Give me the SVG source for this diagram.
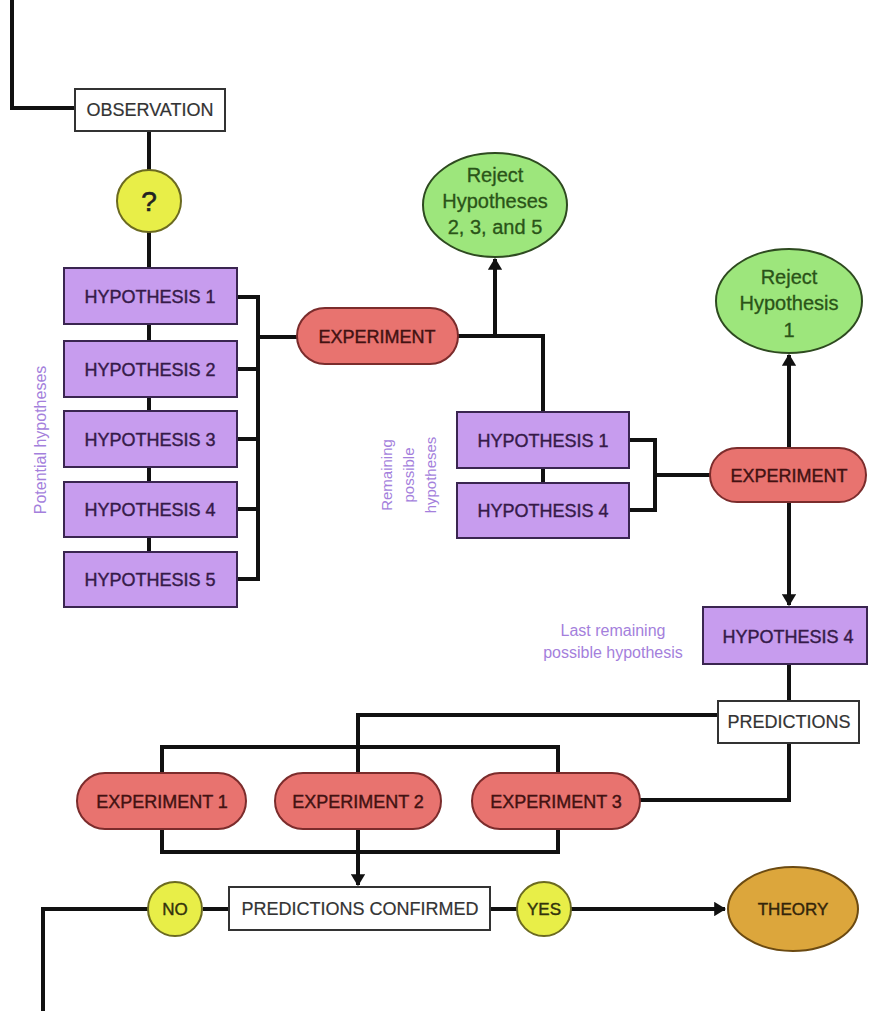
<svg xmlns="http://www.w3.org/2000/svg" width="869" height="1011" viewBox="0 0 869 1011">
<defs>
<style>
text{font-family:"Liberation Sans",Arial,sans-serif;text-anchor:middle}
.wire{fill:none;stroke:#111;stroke-width:4;stroke-linejoin:miter}
.box{fill:#fff;stroke:#333;stroke-width:2}
.hyp{fill:#c79cee;stroke:#3a2550;stroke-width:2}
.hyp-t{font-size:18px;fill:#351a48;stroke:#351a48;stroke-width:0.4}
.exp{fill:#e8736f;stroke:#7b2c2c;stroke-width:2}
.exp-t{font-size:18px;fill:#421212;stroke:#421212;stroke-width:0.4}
.rej{fill:#9de67c;stroke:#2e4a20;stroke-width:2}
.rej-t{font-size:20px;fill:#2a5418;stroke:#2a5418;stroke-width:0.3}
.yel{fill:#e8ee48;stroke:#6b6a20;stroke-width:2}
.yel-t{font-size:17px;fill:#33330c;stroke:#33330c;stroke-width:0.4}
.box-t{font-size:18px;fill:#333;stroke:#333;stroke-width:0.2}
.lab{font-size:15px;fill:#a47fdc}
</style>
<marker id="arr" viewBox="0 0 10 12" refX="9" refY="6" markerWidth="3" markerHeight="3.6" orient="auto" markerUnits="strokeWidth">
<path d="M0,0 L10,6 L0,12 z" fill="#111"/>
</marker>
</defs>
<rect width="869" height="1011" fill="#fff"/>

<g id="connectors">
<path class="wire" d="M12,0 V108 H75"/>
<path class="wire" d="M149,131 V170"/>
<path class="wire" d="M149,232 V268"/>
<path class="wire" d="M149,324 V341 M149,397 V411 M149,467 V482 M149,537 V552"/>
<path class="wire" d="M237,297 H258 V579 H237 M237,369 H258 M237,439 H258 M237,509 H258 M258,337 H297"/>
<path class="wire" d="M458,336 H543 V412"/>
<path class="wire" d="M495,336 V259" marker-end="url(#arr)"/>
<path class="wire" d="M543,468 V483"/>
<path class="wire" d="M629,440 H655 V510 H629 M655,475 H710"/>
<path class="wire" d="M789,448 V355" marker-end="url(#arr)"/>
<path class="wire" d="M789,502 V605" marker-end="url(#arr)"/>
<path class="wire" d="M789,664 V701"/>
<path class="wire" d="M718,715 H358 V773"/>
<path class="wire" d="M162,773 V747 H558 V773"/>
<path class="wire" d="M162,829 V852 H558 V829"/>
<path class="wire" d="M358,829 V885" marker-end="url(#arr)"/>
<path class="wire" d="M640,800 H789 V743"/>
<path class="wire" d="M203,909 H229"/>
<path class="wire" d="M148,909 H43 V1011"/>
<path class="wire" d="M490,909 H517"/>
<path class="wire" d="M571,909 H725" marker-end="url(#arr)"/>
</g>

<g id="observation">
<rect class="box" x="75" y="89" width="150" height="42"/>
<text class="box-t" x="150" y="116">OBSERVATION</text>
</g>

<g id="question">
<ellipse class="yel" cx="149" cy="201" rx="32" ry="31"/>
<text x="149" y="211" style="font-size:28px;fill:#222;stroke:#222;stroke-width:0.6">?</text>
</g>

<g id="hyp1">
<rect class="hyp" x="64" y="268" width="173" height="56"/>
<text class="hyp-t" x="150" y="303">HYPOTHESIS 1</text>
</g>
<g id="hyp2">
<rect class="hyp" x="64" y="341" width="173" height="56"/>
<text class="hyp-t" x="150" y="376">HYPOTHESIS 2</text>
</g>
<g id="hyp3">
<rect class="hyp" x="64" y="411" width="173" height="56"/>
<text class="hyp-t" x="150" y="446">HYPOTHESIS 3</text>
</g>
<g id="hyp4">
<rect class="hyp" x="64" y="482" width="173" height="55"/>
<text class="hyp-t" x="150" y="516">HYPOTHESIS 4</text>
</g>
<g id="hyp5">
<rect class="hyp" x="64" y="552" width="173" height="55"/>
<text class="hyp-t" x="150" y="586">HYPOTHESIS 5</text>
</g>

<g id="label-potential">
<text class="lab" transform="translate(46,440) rotate(-90)" style="font-size:16px">Potential hypotheses</text>
</g>

<g id="experiment-a">
<rect class="exp" x="297" y="308" width="161" height="56" rx="28"/>
<text class="exp-t" x="377" y="343">EXPERIMENT</text>
</g>

<g id="reject-a">
<ellipse class="rej" cx="495" cy="205" rx="72" ry="52"/>
<text class="rej-t" x="495" y="182">Reject</text>
<text class="rej-t" x="495" y="208">Hypotheses</text>
<text class="rej-t" x="495" y="234">2, 3, and 5</text>
</g>

<g id="label-remaining">
<text class="lab" transform="translate(392,475) rotate(-90)">Remaining</text>
<text class="lab" transform="translate(414,475) rotate(-90)">possible</text>
<text class="lab" transform="translate(436,475) rotate(-90)">hypotheses</text>
</g>

<g id="hyp1-b">
<rect class="hyp" x="457" y="412" width="172" height="56"/>
<text class="hyp-t" x="543" y="447">HYPOTHESIS 1</text>
</g>
<g id="hyp4-b">
<rect class="hyp" x="457" y="483" width="172" height="55"/>
<text class="hyp-t" x="543" y="517">HYPOTHESIS 4</text>
</g>

<g id="experiment-b">
<rect class="exp" x="710" y="448" width="156" height="54" rx="27"/>
<text class="exp-t" x="789" y="482">EXPERIMENT</text>
</g>

<g id="reject-b">
<ellipse class="rej" cx="789" cy="301" rx="73" ry="52"/>
<text class="rej-t" x="789" y="284">Reject</text>
<text class="rej-t" x="789" y="310">Hypothesis</text>
<text class="rej-t" x="789" y="337">1</text>
</g>

<g id="hyp4-last">
<rect class="hyp" x="703" y="607" width="164" height="57"/>
<text class="hyp-t" x="788" y="643">HYPOTHESIS 4</text>
</g>

<g id="label-last">
<text class="lab" x="613" y="636" style="font-size:16px">Last remaining</text>
<text class="lab" x="613" y="658" style="font-size:16px">possible hypothesis</text>
</g>

<g id="predictions">
<rect class="box" x="718" y="701" width="141" height="42"/>
<text class="box-t" x="789" y="728">PREDICTIONS</text>
</g>

<g id="experiment-1">
<rect class="exp" x="77" y="773" width="169" height="56" rx="28"/>
<text class="exp-t" x="162" y="808">EXPERIMENT 1</text>
</g>
<g id="experiment-2">
<rect class="exp" x="275" y="773" width="166" height="56" rx="28"/>
<text class="exp-t" x="358" y="808">EXPERIMENT 2</text>
</g>
<g id="experiment-3">
<rect class="exp" x="472" y="773" width="168" height="56" rx="28"/>
<text class="exp-t" x="556" y="808">EXPERIMENT 3</text>
</g>

<g id="predictions-confirmed">
<rect class="box" x="229" y="887" width="261" height="43"/>
<text class="box-t" x="360" y="915">PREDICTIONS CONFIRMED</text>
</g>

<g id="no">
<ellipse class="yel" cx="175" cy="909" rx="27" ry="27"/>
<text class="yel-t" x="175" y="915">NO</text>
</g>

<g id="yes">
<ellipse class="yel" cx="544" cy="909" rx="27" ry="27"/>
<text class="yel-t" x="544" y="915">YES</text>
</g>

<g id="theory">
<ellipse cx="793" cy="909" rx="65" ry="42" fill="#dca63c" stroke="#6b4a12" stroke-width="2"/>
<text x="793" y="915" style="font-size:17px;fill:#33240a;stroke:#33240a;stroke-width:0.4">THEORY</text>
</g>
</svg>
